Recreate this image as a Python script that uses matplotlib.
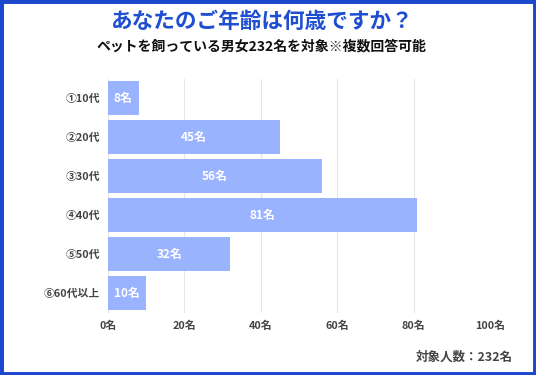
import matplotlib
matplotlib.use("Agg")
import matplotlib.pyplot as plt
from matplotlib.patches import Rectangle, FancyBboxPatch

plt.rcParams['font.family'] = ['Noto Sans CJK JP', 'DejaVu Sans']

categories = ["①10代", "②20代", "③30代", "④40代", "⑤50代", "⑥60代以上"]
values = [8, 45, 56, 81, 32, 10]
xticks = [0, 20, 40, 60, 80, 100]
xtick_labels = ["0名", "20名", "40名", "60名", "80名", "100名"]
title = "あなたのご年齢は何歳ですか？"
subtitle = "ペットを飼っている男女232名を対象※複数回答可能"
footer = "対象人数：232名"

W, H = 536, 375
fig = plt.figure(figsize=(W / 100, H / 100), dpi=100)
fig.patch.set_facecolor("white")

ax = fig.add_axes([108 / W, 1 - 312.5 / H, (490 - 108) / W, (312.5 - 78.5) / H])
ypos = list(range(len(categories)))
bars = ax.barh(ypos, values, height=0.87, color="#99b3ff", zorder=3)
for b, v in zip(bars, values):
    ax.text(v / 2, b.get_y() + b.get_height() / 2, f"{v}名", ha="center", va="center",
            color="white", fontsize=8.5, fontweight="bold", zorder=4)

ax.set_xlim(0, 100)
ax.set_ylim(5.5, -0.5)
ax.set_yticks(ypos)
ax.set_yticklabels(categories, fontsize=7.8, fontweight="bold", color="#444444")
ax.set_xticks(xticks)
ax.set_xticklabels(xtick_labels, fontsize=7.8, fontweight="bold", color="#444444")
ax.tick_params(axis="both", length=0)
ax.tick_params(axis="y", pad=6)
ax.tick_params(axis="x", pad=6)
ax.grid(axis="x", color="#e6e6e6", linewidth=0.8, zorder=0)
for s in ax.spines.values():
    s.set_visible(False)

fig.text(261 / W, 1 - 21 / H, title, ha="center", va="center", fontsize=15.6,
         fontweight="bold", color="#1f4fd0")
fig.text(261 / W, 1 - 46 / H, subtitle, ha="center", va="center", fontsize=10,
         fontweight="bold", color="#111111")
fig.text(513 / W, 1 - 357 / H, footer, ha="right", va="center", fontsize=9,
         fontweight="bold", color="#444444")

fig.patches.append(Rectangle((0, 0), 1, 1, transform=fig.transFigure, fill=False,
                             edgecolor="#1a47cc", linewidth=5, zorder=10))
fig.patches.append(Rectangle((0, 0), 1, 2.5 / H, transform=fig.transFigure,
                             facecolor="#1a47cc", edgecolor="none", zorder=10))

fig.savefig("out.png", dpi=100)
